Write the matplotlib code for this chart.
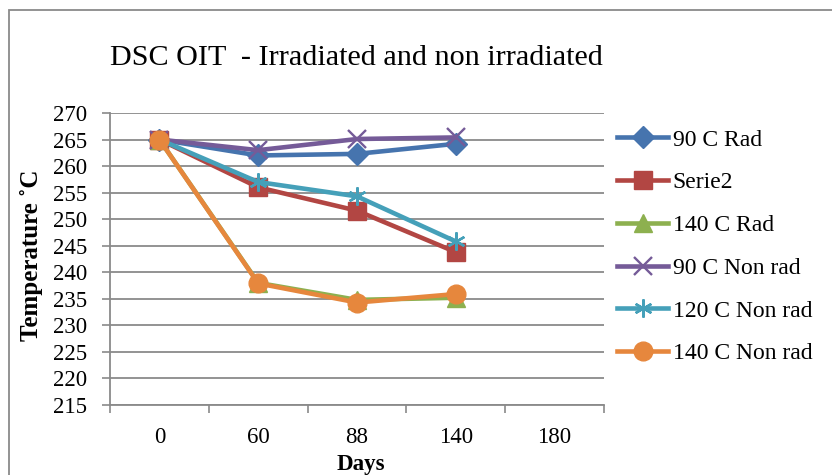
import matplotlib
matplotlib.use("Agg")
import matplotlib.pyplot as plt
from matplotlib.patches import Rectangle
from matplotlib.ticker import FixedLocator

plt.rcParams['font.family'] = ['Liberation Serif', 'DejaVu Serif']

categories = ["0", "60", "88", "140", "180"]
series_names = ["90 C Rad", "Serie2", "140 C Rad", "90 C Non rad", "120 C Non rad", "140 C Non rad"]
rad_90 = [265, 262.0, 262.3, 264.2]
serie2 = [265, 256.0, 251.6, 243.8]
rad_140 = [265, 238.0, 234.8, 235.2]
nonrad_90 = [265, 263.0, 265.1, 265.4]
nonrad_120 = [265, 257.0, 254.3, 245.8]
nonrad_140 = [265, 237.9, 234.3, 235.9]
y_ticks = list(range(215, 271, 5))

values = [rad_90, serie2, rad_140, nonrad_90, nonrad_120, nonrad_140]
colors = ["#4674AE", "#B24643", "#8DB04F", "#755B98", "#45A0B9", "#E6873D"]
markers = ["D", "s", "^", "x", (6, 2, 0), "o"]
msizes = [11.5, 12.5, 12.5, 13, 13, 13.5]

W, H = 832, 475
fig = plt.figure(figsize=(W / 100, H / 100), dpi=100)
ax = fig.add_axes([110 / W, 1 - 405 / H, (604 - 110) / W, (405 - 113) / H])

x = list(range(len(rad_90)))
for name, vals, c, m, ms in zip(series_names, values, colors, markers, msizes):
    ax.plot(x, vals, color=c, lw=3.3, marker=m, ms=ms, mec=c, mfc=c,
            mew=1.7 if m in ("x", (6, 2, 0)) else 1, label=name, solid_joinstyle='round')

ax.set_xlim(-0.5, len(categories) - 0.5)
ax.set_ylim(215, 270)
ax.set_yticks(y_ticks)
ax.yaxis.grid(True, color="#8a8a8a", lw=1.3)
ax.set_axisbelow(True)
ax.set_xticks(range(len(categories)))
ax.set_xticklabels(categories)
ax.xaxis.set_minor_locator(FixedLocator([i - 0.5 for i in range(len(categories) + 1)]))
ax.tick_params(axis='x', which='major', length=0, pad=15.5, labelsize=16.5)
ax.tick_params(axis='x', which='minor', length=6, width=1.2, color="#8a8a8a", direction='out')
ax.tick_params(axis='y', length=5.8, width=1.2, color="#8a8a8a", pad=10.5, labelsize=16.5)
for s in ("top", "right"):
    ax.spines[s].set_visible(False)
for s in ("left", "bottom"):
    ax.spines[s].set_color("#8a8a8a")
    ax.spines[s].set_linewidth(1.3)

fig.text(356 / W, 1 - 65 / H, "DSC OIT  - Irradiated and non irradiated",
         ha='center', va='baseline', fontsize=21.7)
fig.text(31.5 / W, 1 - 255 / H, "Temperature ˚C", rotation=90, ha='center', va='center',
         fontsize=18, fontweight='bold')
fig.text(361 / W, 1 - 470 / H, "Days", ha='center', va='baseline', fontsize=16.5, fontweight='bold')

leg = fig.legend(loc='upper left', bbox_to_anchor=(617 / W, 1 - 129 / H), frameon=False,
                 fontsize=17, handlelength=2.16, handletextpad=0.2, labelspacing=0.9,
                 borderaxespad=0, borderpad=0)

fig.patches.append(Rectangle((9 / W, -0.1), 1.2, 1 - 10 / H + 0.1, transform=fig.transFigure,
                             fill=False, edgecolor="#8a8a8a", lw=1.3))

fig.savefig("out.png", dpi=100)
